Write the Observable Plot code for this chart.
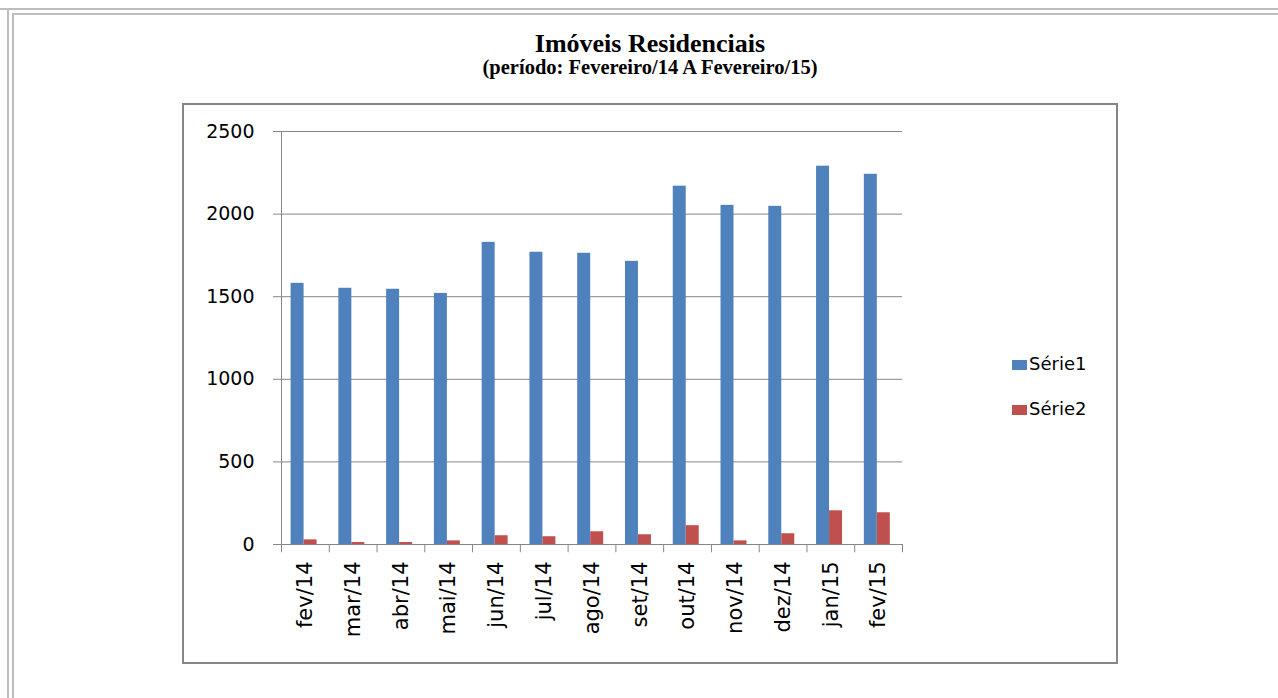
<!DOCTYPE html>
<html><head><meta charset="utf-8">
<script src="https://cdn.jsdelivr.net/npm/d3@7"></script>
<script src="https://cdn.jsdelivr.net/npm/@observablehq/plot@0.6"></script>
<style>
html,body{margin:0;padding:0;background:#fff;}
body{width:1278px;height:698px;overflow:hidden;position:relative;font-family:"DejaVu Sans",sans-serif;}
.ln{position:absolute;background:#bdbdbd;}
#title{position:absolute;left:350px;width:600px;top:28.5px;text-align:center;font-family:"Liberation Serif",serif;font-weight:bold;font-size:26px;line-height:30px;color:#000;}
#subtitle{position:absolute;left:350px;width:600px;top:55px;text-align:center;font-family:"Liberation Serif",serif;font-weight:bold;font-size:20.5px;line-height:24px;color:#000;}
#frame{position:absolute;left:182px;top:103px;width:932px;height:557px;border:2px solid #868686;background:#fff;}
#chart{position:absolute;left:0;top:0;}
#chart svg text{fill:#000;}
.leg{position:absolute;font-family:"DejaVu Sans",sans-serif;font-size:18px;color:#000;line-height:20px;}
.sw{position:absolute;width:15px;height:10px;}
</style>
</head><body>
<div class="ln" style="left:0;top:8px;width:1278px;height:2px;"></div>
<div class="ln" style="left:12px;top:13px;width:1266px;height:2px;"></div>
<div class="ln" style="left:7px;top:8px;width:2px;height:690px;"></div>
<div class="ln" style="left:12px;top:13px;width:2px;height:685px;"></div>
<div id="title">Imóveis Residenciais</div>
<div id="subtitle">(período: Fevereiro/14 A Fevereiro/15)</div>
<div id="frame"><div id="chart"></div>
<div class="sw" style="left:828px;top:255px;background:#4F81BD;"></div>
<div class="leg" style="left:845px;top:249px;">Série1</div>
<div class="sw" style="left:828px;top:300px;background:#C0504D;"></div>
<div class="leg" style="left:845px;top:294px;">Série2</div>
</div>
<script>
const months = ["fev/14","mar/14","abr/14","mai/14","jun/14","jul/14","ago/14","set/14","out/14","nov/14","dez/14","jan/15","fev/15"];
const serie1 = [1581,1551,1545,1520,1829,1769,1763,1714,2169,2053,2047,2290,2241];
const serie2 = [28,12,12,22,53,47,77,59,114,22,65,204,192];
const yTicks = [0,500,1000,1500,2000,2500];
const seriesNames = ["Série1","Série2"];

const d1 = months.map((m,i)=>({month:m, value:serie1[i], serie:seriesNames[0]}));
const d2 = months.map((m,i)=>({month:m, value:serie2[i], serie:seriesNames[1]}));

const W = 932, H = 557, mL = 97, mR = 214, mT = 26, mB = 118;
const bw = (W - mL - mR) / months.length;
const gray = "#868686";

const chart = Plot.plot({
  width: W, height: H,
  marginLeft: mL, marginRight: mR, marginTop: mT, marginBottom: mB,
  style: {color: gray, background: "transparent", fontFamily: "DejaVu Sans, sans-serif", fontSize: "19px", overflow: "visible"},
  x: {domain: months, padding: 0, round: false, tickSize: 0, tickRotate: -90, tickPadding: 17, label: null, fontSize: 21},
  y: {domain: [0,2500], ticks: yTicks, tickSize: 8, tickPadding: 19, tickFormat: d => String(d), label: null, line: true},
  marks: [
    Plot.ruleY(yTicks, {y: d => d, stroke: gray, strokeWidth: 1}),
    Plot.barY(d1, {x: "month", y: "value", fill: "#4F81BD", insetLeft: 9.6, insetRight: 25.2}),
    Plot.barY(d2, {x: "month", y: "value", fill: "#C0504D", insetLeft: 22.6, insetRight: 12.2}),
    Plot.ruleX(months, {x: d => d, dx: -bw/2, y1: 0, y2: -50, stroke: gray}),
    Plot.ruleX([months[months.length-1]], {x: d => d, dx: bw/2, y1: 0, y2: -50, stroke: gray})
  ]
});
document.getElementById("chart").appendChild(chart);
chart.querySelectorAll('[aria-label="x-axis tick label"] text, [aria-label="x-axis tick label"]').forEach(e=>e.setAttribute("font-size","21"));
</script>
</body></html>
